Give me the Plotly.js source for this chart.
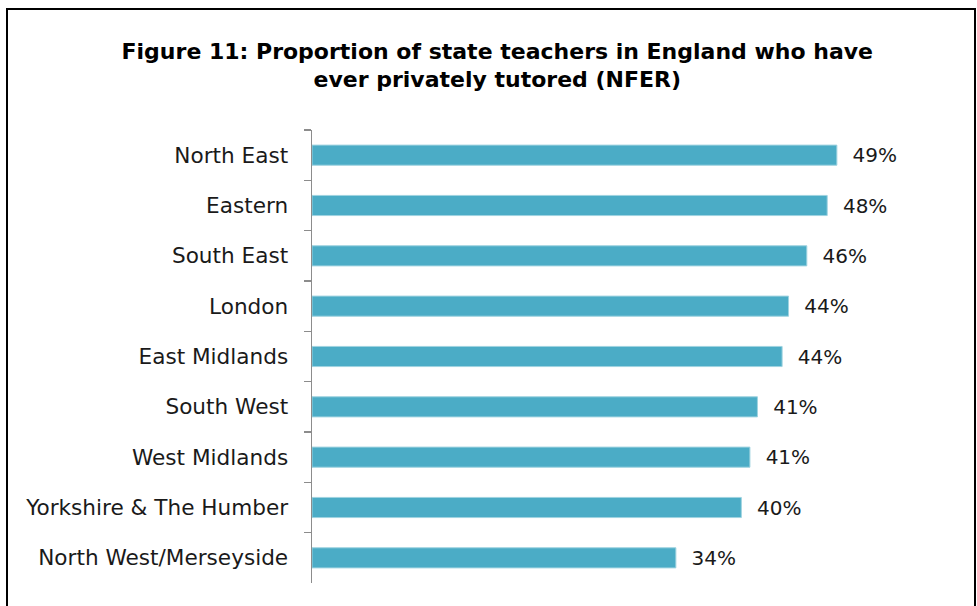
<!DOCTYPE html>
<html>
<head>
<meta charset="utf-8">
<script src="https://cdn.plot.ly/plotly-3.0.1.min.js"></script>
<style>html,body{margin:0;padding:0;background:#fff;}#chart{width:977px;height:606px;}</style>
</head>
<body>
<div id="chart"></div>
<script>
// Data (top to bottom as shown)
const regions = ["North East","Eastern","South East","London","East Midlands","South West","West Midlands","Yorkshire & The Humber","North West/Merseyside"];
const values = [48.9, 48.0, 46.1, 44.4, 43.8, 41.5, 40.8, 40.0, 33.9];
const labels = ["49%","48%","46%","44%","44%","41%","41%","40%","34%"];

const L = 312, R = 956, T = 130, B = 583;
const W = 977, H = 606;
function px(x){return (x-L)/(R-L);}
function py(y){return (B-y)/(B-T);}

const FONT = '"DejaVu Sans", sans-serif';

const trace = {
  type: 'bar',
  orientation: 'h',
  y: regions,
  x: values,
  text: labels.map(s => '  ' + s),
  textposition: 'outside',
  constraintext: 'none',
  cliponaxis: false,
  textfont: {family: FONT, size: 20, color: '#1a1a1a'},
  marker: {color: '#4BACC6', line: {color: '#9fd3e0', width: 1}},
  width: 0.4,
  hoverinfo: 'none'
};

const layout = {
  width: W, height: H,
  margin: {l: L, r: W - R, t: T, b: H - B},
  paper_bgcolor: '#fff', plot_bgcolor: '#fff',
  showlegend: false,
  title: {
    text: 'Figure 11: Proportion of state teachers in England who have<br>ever privately tutored (NFER)',
    font: {family: FONT, size: 22, color: '#000', weight: 'bold'},
    xref: 'container', x: 0.509, xanchor: 'center',
    yref: 'container', y: 0.903, yanchor: 'middle'
  },
  xaxis: {range: [0, 60], visible: false, fixedrange: true},
  yaxis: {
    type: 'category',
    autorange: 'reversed',
    showline: true, linecolor: '#8c8c8c', linewidth: 1.5,
    ticks: 'outside', tickson: 'boundaries', ticklen: 7, tickcolor: '#8c8c8c', tickwidth: 1.5,
    ticklabelstandoff: 18,
    tickfont: {family: FONT, size: 21.6, color: '#1a1a1a'},
    showgrid: false, zeroline: false, fixedrange: true
  },
  shapes: [{
    type: 'rect', xref: 'paper', yref: 'paper',
    x0: px(7), x1: px(975), y0: py(615), y1: py(9),
    line: {color: '#000', width: 2}, fillcolor: 'rgba(0,0,0,0)', layer: 'above'
  }]
};

Plotly.newPlot('chart', [trace], layout, {displayModeBar: false, staticPlot: true});
</script>
</body>
</html>
